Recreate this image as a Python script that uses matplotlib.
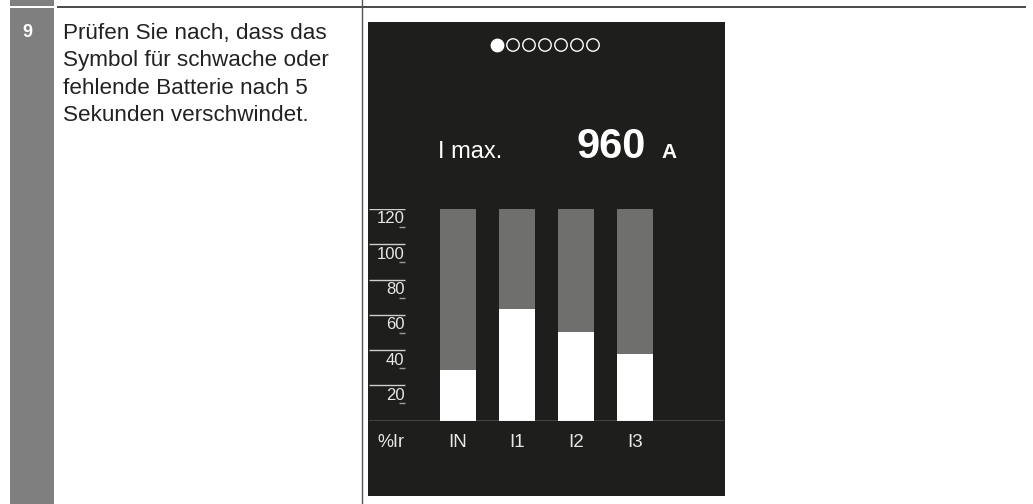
import matplotlib.pyplot as plt
from matplotlib.patches import Rectangle

plt.rcParams['font.family'] = ['Liberation Sans', 'DejaVu Sans']

# display values (%Ir)
phases = ["IN", "I1", "I2", "I3"]
load_pct = [29, 63.5, 50, 38]
full_scale = [120, 120, 120, 120]
scale_ticks = [20, 40, 60, 80, 100, 120]
unit_label = "%Ir"
step_no = "9"
step_text = ["Prüfen Sie nach, dass das",
             "Symbol für schwache oder",
             "fehlende Batterie nach 5",
             "Sekunden verschwindet."]
imax_value = "960"
n_pages = 7

W, H = 1033, 504
fig = plt.figure(figsize=(W / 100, H / 100), dpi=100)

# background layer in pixel coordinates
bg = fig.add_axes([0, 0, 1, 1])
bg.set_xlim(0, W)
bg.set_ylim(H, 0)
bg.axis('off')

# table decoration
bg.add_patch(Rectangle((10, 0), 44, H, color='#7f7f7f', lw=0))
bg.add_patch(Rectangle((10, 5.8), 44, 2.2, color='white', lw=0))
bg.plot([57, 1026], [6.7, 6.7], color='#3a3a3a', lw=1.3, solid_capstyle='butt')
bg.plot([361.5, 361.5], [0, H], color='#555555', lw=1.0)

bg.text(27, 32.5, step_no, color='white', fontsize=13, fontweight='bold',
        ha='center', va='center')
for i, line in enumerate(step_text):
    bg.text(63, 33 + i * 27.5, line, color='#222222', fontsize=16.2,
            ha='left', va='center')

# display panel
bg.add_patch(Rectangle((368, 22), 357, 474, color='#1e1e1c', lw=0))

# page dots
for i in range(n_pages):
    bg.scatter(497 + 16 * i, 45, s=80, marker='o',
               facecolor='white' if i == 0 else 'none',
               edgecolor='white', linewidths=1.0)

bg.text(438, 158.5, "I max.", color='white', fontsize=17, ha='left', va='baseline')
bg.text(577, 158.5, imax_value, color='white', fontsize=30, fontweight='bold',
        ha='left', va='baseline')
bg.text(661, 158.5, "A", color='white', fontsize=15, fontweight='bold',
        ha='left', va='baseline')

# bar graph axes: y=0 at px 420.7, y=120 at px 209
x0, x1 = 369, 724
y0, y1 = 420.7, 209
ax = fig.add_axes([x0 / W, (H - y0) / H, (x1 - x0) / W, (y0 - y1) / H])
ax.patch.set_alpha(0)
pitch = 59
ax.set_xlim((x0 - 458) / pitch, (x1 - 458) / pitch)
ax.set_ylim(0, 120)
ax.axis('off')

xs = list(range(len(phases)))
ax.bar(xs, full_scale, width=36 / pitch, color='#6f6f6d', lw=0)
ax.bar(xs, load_pct, width=36 / pitch, color='white', lw=0)

xl = (x0 - 458) / pitch
xr = (405 - 458) / pitch
ax.hlines(scale_ticks, xl, xr, color='#cfcfcf', lw=1.0)
ax.hlines([t - 10.2 for t in scale_ticks], (399 - 458) / pitch, xr,
          color='#9a9a9a', lw=1.0)
for t in scale_ticks:
    ax.text((404.5 - 458) / pitch, t - 5.6, str(t), color='#e8e8e8', fontsize=12,
            ha='right', va='center')
ax.axhline(0, color='#d9d9d9', lw=1.0)

ax.text((391 - 458) / pitch, -12.1, unit_label, color='#e8e8e8', fontsize=13,
        ha='center', va='center', clip_on=False)
for x, name in zip(xs, phases):
    ax.text(x, -12.1, name, color='#e8e8e8', fontsize=13.5,
            ha='center', va='center', clip_on=False)

fig.savefig('out.png', dpi=100)
